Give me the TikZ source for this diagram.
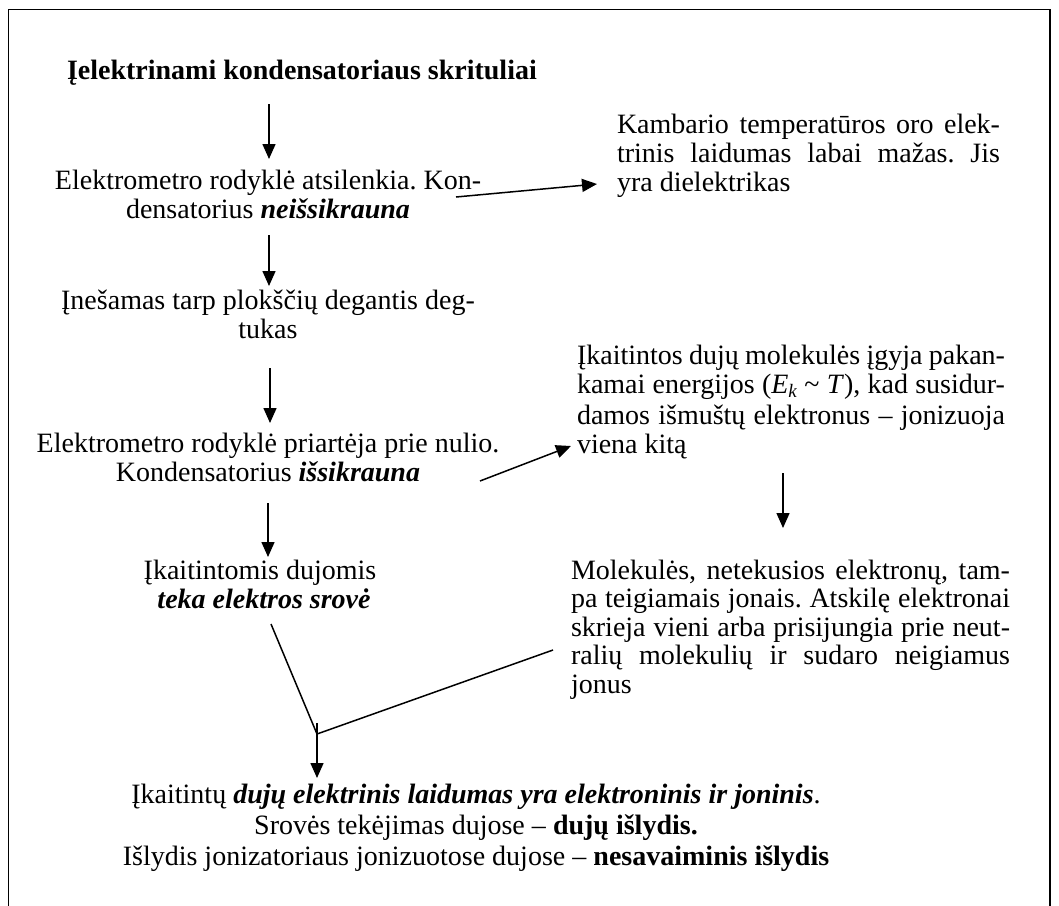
\documentclass[tikz,border=0pt]{standalone}
\usepackage{fontspec}
\setmainfont{Liberation Serif}
\usetikzlibrary{arrows.meta}
\frenchspacing
\tikzset{
  txt/.style={inner sep=0pt, outer sep=0pt, font=\fontsize{28}{29}\selectfont},
  arr/.style={line width=1.5pt, -{Triangle[length=15pt,width=13pt]}},
  ln/.style={line width=1.5pt},
  frame/.style={line width=1.6pt}
}
\newcommand{\bi}[1]{\textbf{\textit{#1}}}
\newcommand{\subk}{\raisebox{-4pt}{\fontsize{19}{19}\selectfont\textit{k}}}
\begin{document}
\begin{tikzpicture}[x=1pt,y=-1pt]
\useasboundingbox (0,0) rectangle (1059,905);
% frame
\draw[frame] (8.5,906) -- (8.5,9.5) -- (1050,9.5) -- (1050,906);

% left column
\node[txt,anchor=base west] (t0) at (67,79) {\textbf{Įelektrinami kondensatoriaus skrituliai}};
\node[txt,anchor=base] (b2a) at (268,189) {Elektrometro rodyklė atsilenkia. Kon-};
\node[txt,anchor=base] (b2b) at (268,218) {densatorius \bi{neišsikrauna}};
\node[txt,anchor=base] (b4a) at (268,309) {Įnešamas tarp plokščių degantis deg-};
\node[txt,anchor=base] (b4b) at (268,338) {tukas};
\node[txt,anchor=base] (b5a) at (268,452) {Elektrometro rodyklė priartėja prie nulio.};
\node[txt,anchor=base] (b5b) at (268,481) {Kondensatorius \bi{išsikrauna}};
\node[txt,anchor=base] (b6a) at (260,579) {Įkaitintomis dujomis};
\node[txt,anchor=base] (b6b) at (264,608) {\bi{teka elektros srovė}};

% right column
\node[txt,anchor=base west] (r1a) at (617,133) {\makebox[383pt][s]{Kambario temperatūros oro elek-}};
\node[txt,anchor=base west] (r1b) at (617,162) {\makebox[383pt][s]{trinis laidumas labai mažas. Jis}};
\node[txt,anchor=base west] (r1c) at (617,191) {yra dielektrikas};

\node[txt,anchor=base west] (r2a) at (577,364) {\makebox[428pt][s]{Įkaitintos dujų molekulės įgyja pakan-}};
\node[txt,anchor=base west] (r2b) at (577,393) {\makebox[428pt][s]{kamai energijos (\textit{E}\subk{} \textasciitilde{} \textit{T}), kad susidur-}};
\node[txt,anchor=base west] (r2c) at (577,424) {\makebox[428pt][s]{damos išmuštų elektronus – jonizuoja}};
\node[txt,anchor=base west] (r2d) at (577,453) {viena kitą};

\node[txt,anchor=base west] (r3a) at (571,579) {\makebox[439pt][s]{Molekulės, netekusios elektronų, tam-}};
\node[txt,anchor=base west] (r3b) at (571,607) {\makebox[439pt][s]{pa teigiamais jonais. Atskilę elektronai}};
\node[txt,anchor=base west] (r3c) at (571,636) {\makebox[439pt][s]{skrieja vieni arba prisijungia prie neut-}};
\node[txt,anchor=base west] (r3d) at (571,664) {\makebox[439pt][s]{ralių molekulių ir sudaro neigiamus}};
\node[txt,anchor=base west] (r3e) at (571,693) {jonus};

% bottom
\node[txt,anchor=base] (bt1) at (476,803) {Įkaitintų \bi{dujų elektrinis laidumas yra elektroninis ir joninis}.};
\node[txt,anchor=base] (bt2) at (476,834) {Srovės tekėjimas dujose – \textbf{dujų išlydis.}};
\node[txt,anchor=base] (bt3) at (476,865) {Išlydis jonizatoriaus jonizuotose dujose – \textbf{nesavaiminis išlydis}};

% connector coordinates
\coordinate (a1s) at (269,104); \coordinate (a1e) at (269,159);
\coordinate (a2s) at (456,197); \coordinate (a2e) at (597,184);
\coordinate (a3s) at (269,235); \coordinate (a3e) at (269,286);
\coordinate (a4s) at (270,368); \coordinate (a4e) at (270,423);
\coordinate (a5s) at (480,481); \coordinate (a5e) at (571,446);
\coordinate (a6s) at (268,503); \coordinate (a6e) at (268,557);
\coordinate (a7s) at (783,473); \coordinate (a7e) at (783,528);
\coordinate (mL) at (271,624);
\coordinate (mR) at (553,650);
\coordinate (mJ) at (317,734);
\coordinate (mT) at (317,723);
\coordinate (mE) at (317,778);

\draw[arr] (a1s) -- (a1e);
\draw[arr] (a2s) -- (a2e);
\draw[arr] (a3s) -- (a3e);
\draw[arr] (a4s) -- (a4e);
\draw[arr] (a5s) -- (a5e);
\draw[arr] (a6s) -- (a6e);
\draw[arr] (a7s) -- (a7e);
\draw[ln] (mL) -- (mJ) -- (mR);
\draw[arr] (mT) -- (mE);
\end{tikzpicture}
\end{document}
